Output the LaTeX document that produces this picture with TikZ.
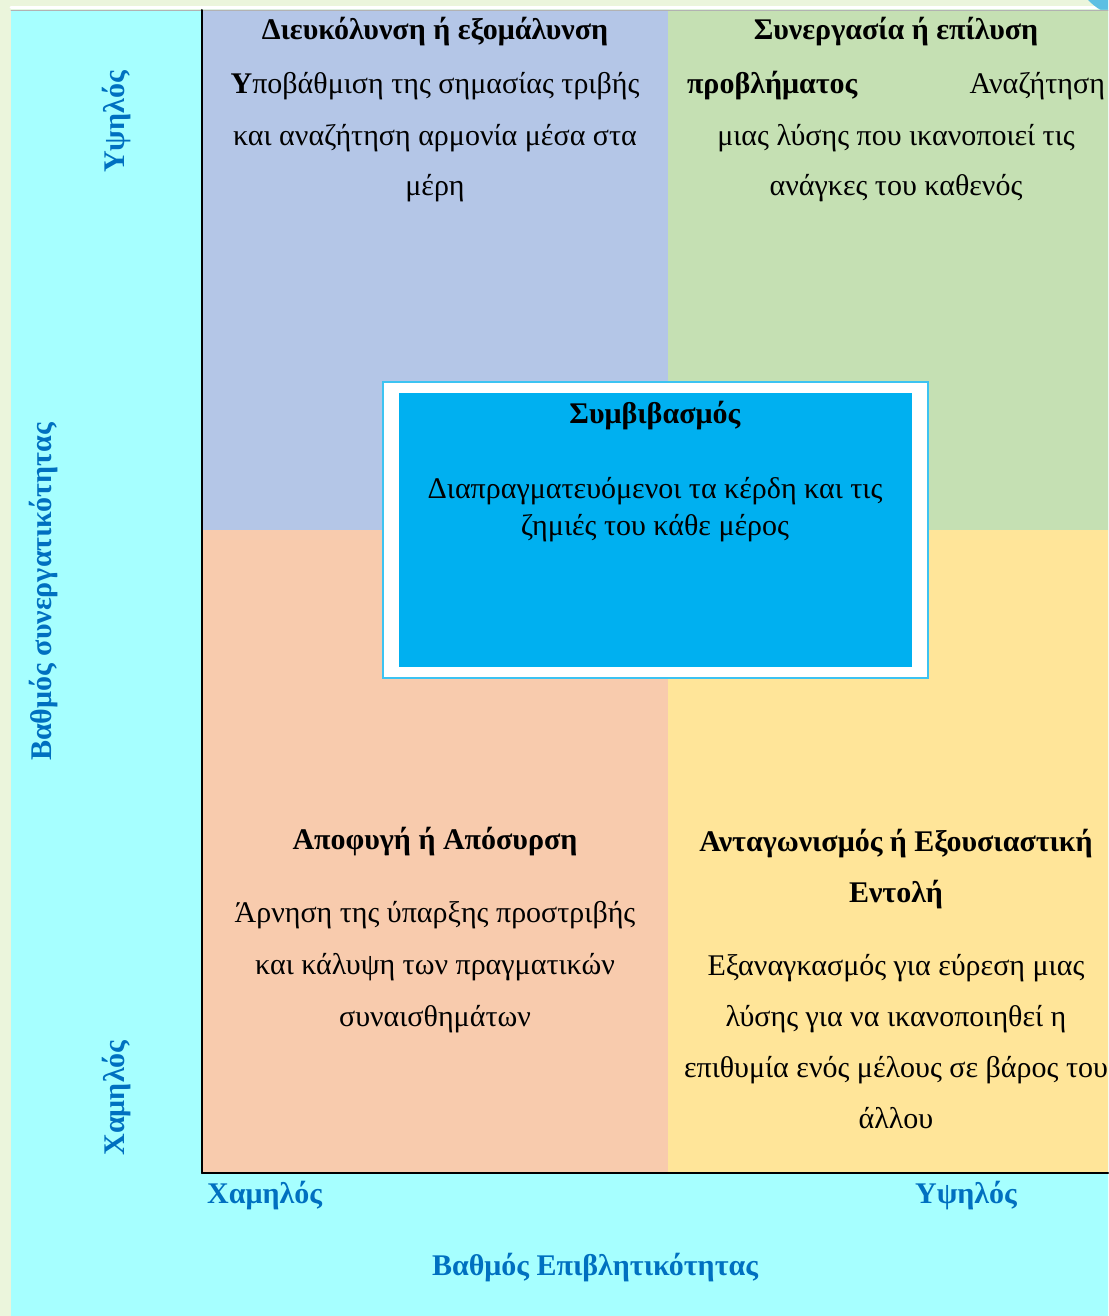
\documentclass[tikz,border=0pt]{standalone}
\usepackage{fontspec}
\setmainfont{Liberation Serif}
\usepackage{tkz-euclide}
\usepackage{amsmath}
\usetikzlibrary{positioning}

\definecolor{pagegreen}{HTML}{EBF5DC}
\definecolor{axiscyan}{HTML}{A6FFFF}
\definecolor{quadblue}{HTML}{B4C6E7}
\definecolor{quadgreen}{HTML}{C5E0B3}
\definecolor{quadorange}{HTML}{F8CBAD}
\definecolor{quadyellow}{HTML}{FFE599}
\definecolor{boxblue}{HTML}{00B0F0}
\definecolor{boxedge}{HTML}{3CC3F2}
\definecolor{labelblue}{HTML}{0070C0}
\definecolor{tabblue}{HTML}{5DBFE3}

\tikzset{
  quadtext/.style={font=\fontsize{30}{51}\selectfont, align=center, inner sep=0pt, anchor=base},
  axislabel/.style={font=\fontsize{30}{36}\selectfont\bfseries, text=labelblue, inner sep=0pt},
  centerframe/.style={fill=white, draw=boxedge, line width=1.5pt, minimum width=545, minimum height=296, inner sep=0pt},
  centerfill/.style={fill=boxblue, minimum width=513, minimum height=274, inner sep=0pt},
}

\begin{document}
\begin{tikzpicture}[x=1pt, y=-1pt]
    \useasboundingbox (0,0) rectangle (1108,1316);
    \tkzDefPoints{0/0/O,1108/0/P,1108/1316/Q,0/1316/R}
    \tkzDefPoints{11/10/S,1108/10/T,1108/1316/U,11/1316/V}
    \tkzDefPoints{11/7.5/W1,1108/7.5/W2}
    \tkzDefPoints{202/10/A,668/10/B,1108/10/C,202/530/D,668/530/E,1108/530/F,202/1173/G,668/1173/H,1108/1173/I}
    \tkzFillPolygon[color=pagegreen](O,P,Q,R)
    \tkzDrawSegments[color=white, line width=3pt](W1,W2)
    \begin{scope}
        \clip (1080,0) rectangle (1108,10);
        \fill[tabblue] (1130,-40) circle (58);
    \end{scope}
    \tkzFillPolygon[color=axiscyan](S,T,U,V)
    \tkzFillPolygon[color=quadblue](A,B,E,D)
    \tkzFillPolygon[color=quadgreen](B,C,F,E)
    \tkzFillPolygon[color=quadorange](D,E,H,G)
    \tkzFillPolygon[color=quadyellow](E,F,I,H)
    \tkzDrawSegments[color=gray!60, line width=0.8pt](S,T)
    \tkzDrawSegments[color=black, line width=2pt](A,G G,I)

    % multi-line nodes sit on the baseline of their last line
    \node[centerframe] (compromise-frame) at (655.5,530) {};
    \node[centerfill] (compromise) at (655,530) {};
    \node[quadtext, font=\fontsize{30}{37}\selectfont] (compromise-text) at (655,535)
        {\textbf{Συμβιβασμός}\\[38pt] Διαπραγματευόμενοι τα κέρδη και τις\\ ζημιές του κάθε μέρος};

    \node[quadtext] (smoothing) at (435,196)
        {\textbf{Διευκόλυνση ή εξομάλυνση}\\[3pt] \textbf{Υ}ποβάθμιση της σημασίας τριβής\\ και αναζήτηση αρμονία μέσα στα\\ μέρη};
    \node[quadtext] (collaboration) at (896,196)
        {\textbf{Συνεργασία ή επίλυση}\\[3pt] \makebox[418pt]{\textbf{προβλήματος}\hfill Αναζήτηση}\\ μιας λύσης που ικανοποιεί τις\\ ανάγκες του καθενός};
    \node[quadtext, font=\fontsize{30}{52}\selectfont] (avoidance) at (435,1026)
        {\textbf{Αποφυγή ή Απόσυρση}\\[21pt] Άρνηση της ύπαρξης προστριβής\\ και κάλυψη των πραγματικών\\ συναισθημάτων};
    \node[quadtext] (competition) at (896,1128)
        {\textbf{Ανταγωνισμός ή Εξουσιαστική}\\ \textbf{Εντολή}\\[22pt] Εξαναγκασμός για εύρεση μιας\\ λύσης για να ικανοποιηθεί η\\ επιθυμία ενός μέλους σε βάρος του\\ άλλου};

    \node[axislabel, rotate=90] (coop-high) at (117,122) {Υψηλός};
    \node[axislabel, rotate=90] (coop-low) at (117,1098) {Χαμηλός};
    \node[axislabel, rotate=90] (coop-axis) at (44,592) {Βαθμός συνεργατικότητας};
    \node[axislabel, anchor=base west] (assert-low) at (207,1203) {Χαμηλός};
    \node[axislabel, anchor=base] (assert-high) at (966,1203) {Υψηλός};
    \node[axislabel, anchor=base] (assert-axis) at (595,1275) {Βαθμός Επιβλητικότητας};
\end{tikzpicture}
\end{document}
